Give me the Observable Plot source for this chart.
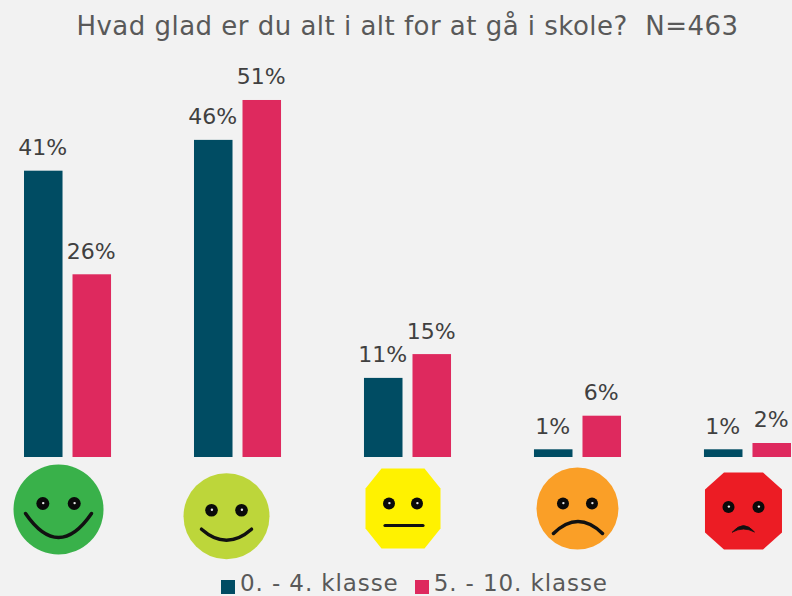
<!DOCTYPE html>
<html><head><meta charset="utf-8">
<script src="https://cdn.jsdelivr.net/npm/d3@7"></script>
<script src="https://cdn.jsdelivr.net/npm/@observablehq/plot@0.6"></script>
<style>
html,body{margin:0;padding:0;background:#f2f2f2;width:792px;height:596px;overflow:hidden;font-family:"DejaVu Sans",sans-serif}
#title{position:absolute;left:0;top:10px;width:815px;text-align:center;font-size:26px;line-height:32px;color:#595959;white-space:pre;letter-spacing:.48px}
#chart{position:absolute;left:0;top:50px}
#legend{position:absolute;left:221px;top:571px;display:flex;align-items:center;font-size:23px;line-height:25px;color:#595959;letter-spacing:.9px;white-space:pre}
#legend i{display:inline-block;width:14px;height:14px;margin-right:5px;margin-top:7px}
#legend span{display:inline-flex;align-items:center;margin-right:16px}
</style></head>
<body>
<div id="title"></div>
<div id="chart"></div>
<div id="legend"></div>
<script>
const titleText = "Hvad glad er du alt i alt for at gå i skole?  N=463";
const categories = ["Meget glad", "Glad", "Neutral", "Ked af det", "Meget ked af det"];
const series = ["0. - 4. klasse", "5. - 10. klasse"];
const valuesYoung = [40.9, 45.3, 11.3, 1.1, 1.1];
const valuesOld = [26.1, 51, 14.7, 5.9, 2];
const labelsYoung = ["41%", "46%", "11%", "1%", "1%"];
const labelsOld = ["26%", "51%", "15%", "6%", "2%"];
const colors = ["#004c63", "#de295e"];

const rows = categories.flatMap((category, i) => [
  {category, series: series[0], value: valuesYoung[i], label: labelsYoung[i]},
  {category, series: series[1], value: valuesOld[i], label: labelsOld[i]}
]);

// Face drawings: symbols handed to Plot's dot mark
const disc = {draw(c, size) { const r = Math.sqrt(size / Math.PI); c.moveTo(r, 0); c.arc(0, 0, r, 0, 2 * Math.PI); }};
const octagon = (w, h, kx, ky) => ({draw(c) {
  c.moveTo(-w + kx, -h); c.lineTo(w - kx, -h); c.lineTo(w, -h + ky); c.lineTo(w, h - ky);
  c.lineTo(w - kx, h); c.lineTo(-w + kx, h); c.lineTo(-w, h - ky); c.lineTo(-w, -h + ky); c.closePath();
}});
const curve = (x0, x1, y, cy) => ({draw(c) { c.moveTo(x0, y); c.quadraticCurveTo((x0 + x1) / 2, cy, x1, y); }});
const crescent = (x0, x1, y, cy, cy2) => ({draw(c) {
  c.moveTo(x0, y); c.quadraticCurveTo((x0 + x1) / 2, cy, x1, y);
  c.quadraticCurveTo((x0 + x1) / 2, cy2, x0, y); c.closePath();
}});

const faceLooks = [
  {dx: -9.5, dy: 52, r: 45, fill: "#39b14a", shape: disc, eyeX: 15.7, eyeY: -6, eyeR: 6.5, mouth: curve(-33, 33, 4, 52), mouthW: 3.5, mouthFill: "none"},
  {dx: -11.5, dy: 58.7, r: 43, fill: "#bdd63a", shape: disc, eyeX: 15, eyeY: -6, eyeR: 6.3, mouth: curve(-25, 25, 13, 35), mouthW: 3.5, mouthFill: "none"},
  {dx: -5, dy: 51, r: 40, fill: "#fff200", shape: octagon(37.5, 40, 16, 20), eyeX: 14, eyeY: -5, eyeR: 6, mouth: curve(-18, 20, 17, 17), mouthW: 3.2, mouthFill: "none"},
  {dx: -0.5, dy: 51, r: 41, fill: "#fa9f27", shape: disc, eyeX: 14.5, eyeY: -5, eyeR: 6, mouth: curve(-24, 25, 25, 1), mouthW: 3.5, mouthFill: "none"},
  {dx: -4.5, dy: 53.5, r: 38, fill: "#ec1c24", shape: octagon(38.5, 38.5, 19, 17), eyeX: 15, eyeY: -4, eyeR: 6, mouth: crescent(-11, 11, 21, 8, 15), mouthW: 0.8, mouthFill: "#111"}
];

const faceMarks = categories.flatMap((category, i) => {
  const f = faceLooks[i];
  const base = {fx: d => d, frameAnchor: "bottom"};
  const at = (dx, dy) => ({...base, dx: f.dx + dx, dy: f.dy + dy});
  return [
    Plot.dot([category], {...at(0, 0), r: f.r, fill: f.fill, symbol: f.shape}),
    ...[-1, 1].flatMap(side => [
      Plot.dot([category], {...at(side * f.eyeX, f.eyeY), r: f.eyeR, fill: "#0a0a0a"}),
      Plot.dot([category], {...at(side * f.eyeX + 0.4, f.eyeY - 0.4), r: 1.2, fill: "#e8e8e8"})
    ]),
    Plot.dot([category], {...at(0, 0), fill: f.mouthFill, stroke: "#111", strokeWidth: f.mouthW, strokeLinecap: "round", symbol: f.mouth})
  ];
});

const chart = Plot.plot({
  width: 792, height: 520,
  marginTop: 0, marginBottom: 113, marginLeft: 24, marginRight: 1,
  style: {background: "transparent", fontFamily: "'DejaVu Sans',sans-serif", overflow: "visible"},
  fx: {domain: categories, paddingInner: 0.488, paddingOuter: 0, round: false, axis: null, label: null},
  x: {domain: series, paddingInner: 0.206, paddingOuter: 0, round: false, axis: null, label: null},
  y: {domain: [0, 58.14], axis: null, label: null},
  color: {domain: series, range: colors},
  marks: [
    Plot.barY(rows, {fx: "category", x: "series", y: "value", fill: "series"}),
    Plot.text(rows, {fx: "category", x: "series", y: "value", text: "label", lineAnchor: "bottom", dy: -16, dx: -1, fontSize: 22, fill: "#404040"}),
    ...faceMarks
  ]
});
document.getElementById("chart").append(chart);
document.getElementById("title").textContent = titleText;
const legend = document.getElementById("legend");
series.forEach((s, i) => {
  const item = document.createElement("span");
  const box = document.createElement("i");
  box.style.background = colors[i];
  item.append(box, document.createTextNode(s));
  legend.append(item);
});
</script>
</body></html>
